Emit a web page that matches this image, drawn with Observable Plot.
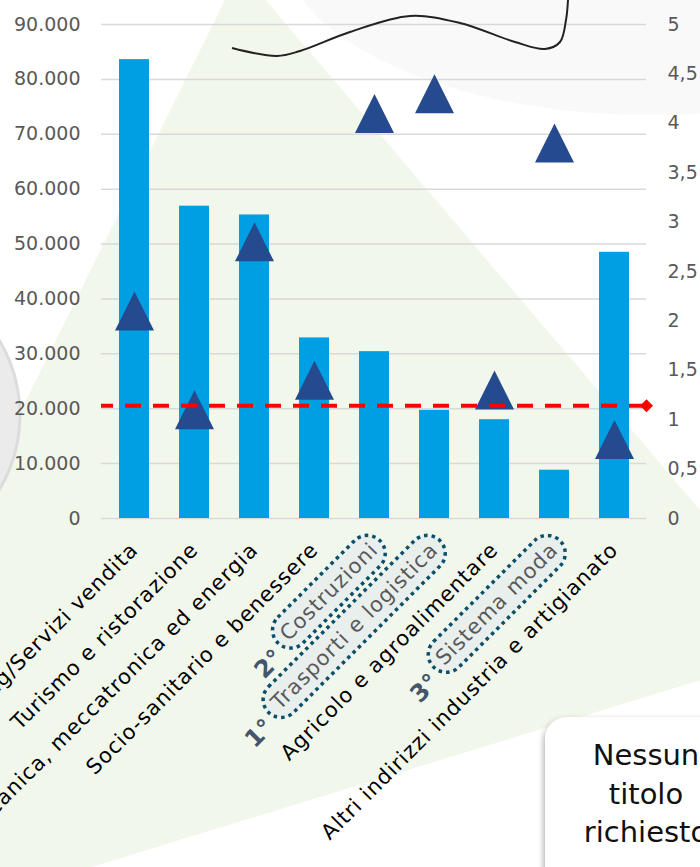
<!DOCTYPE html>
<html><head><meta charset="utf-8">
<script src="https://cdn.jsdelivr.net/npm/d3@7"></script>
<script src="https://cdn.jsdelivr.net/npm/@observablehq/plot@0.6"></script>
<style>
body{margin:0;background:#fff;}
#chart{position:relative;width:700px;height:867px;overflow:hidden;}
</style>
</head><body><div id="chart"></div>
<script>
// ---- data ----
const categories = [
  "Marketing/Servizi vendita",
  "Turismo e ristorazione",
  "Meccanica, meccatronica ed energia",
  "Socio-sanitario e benessere",
  "Costruzioni",
  "Trasporti e logistica",
  "Agricolo e agroalimentare",
  "Sistema moda",
  "Altri indirizzi industria e artigianato"
];
const iscritti = [83600, 56900, 55300, 32900, 30400, 19700, 18000, 8800, 48500];
const indice = [2.1, 1.1, 2.8, 1.4, 4.1, 4.3, 1.3, 3.8, 0.8];
const mediaIndice = 1.14;
const leftTicks = [0, 10000, 20000, 30000, 40000, 50000, 60000, 70000, 80000, 90000];
const rightTicks = [0, 0.5, 1, 1.5, 2, 2.5, 3, 3.5, 4, 4.5, 5];
const rankCats = ["Trasporti e logistica", "Costruzioni", "Sistema moda"];
const rankLabels = ["1°", "2°", "3°"];
const boxTitle = ["Nessun", "titolo", "richiesto"];

// ---- helpers ----
const K = 90000 / 5; // right axis -> left axis units
const itLocale = d3.formatLocale({decimal: ",", thousands: ".", grouping: [3], currency: ["€", ""]});
const fmtL = itLocale.format(",");
const fmtR = itLocale.format(",.1~f");
const rows = categories.map((c, i) => ({c, v: iscritti[i], t: indice[i] * K}));

const tri = {draw(ctx, size) {const a = Math.sqrt(size / Math.PI); ctx.moveTo(0, -a); ctx.lineTo(a, a); ctx.lineTo(-a, a); ctx.closePath();}};
const diamond = {draw(ctx, size) {const a = Math.sqrt(size / Math.PI); ctx.moveTo(0, -a); ctx.lineTo(a, 0); ctx.lineTo(0, a); ctx.lineTo(-a, 0); ctx.closePath();}};

const plot = Plot.plot({
  width: 700, height: 867,
  marginTop: 24, marginBottom: 349, marginLeft: 101, marginRight: 54,
  style: {fontFamily: "DejaVu Sans", fontSize: "19px", background: "transparent"},
  x: {domain: categories, paddingInner: 0.5, paddingOuter: 0.25, label: null},
  y: {domain: [0, 90000], label: null},
  marks: [
    Plot.gridY(leftTicks, {stroke: "#d9d9d9", strokeOpacity: 1, strokeWidth: 1.5}),
    Plot.axisY(leftTicks, {anchor: "left", tickSize: 0, tickPadding: 21, tickFormat: fmtL, color: "#595959", fontSize: 19, label: null}),
    Plot.axisY(rightTicks.map(v => v * K), {anchor: "right", tickSize: 0, tickPadding: 21, tickFormat: d => fmtR(d / K), color: "#595959", fontSize: 19, label: null}),
    Plot.barY(rows, {x: "c", y: "v", fill: "#009FE3"}),
    Plot.dot(rows, {x: "c", y: "t", symbol: tri, r: 19.5, fill: "#264A8E", stroke: null, ariaLabel: "triangoli"}),
    Plot.ruleY([mediaIndice * K], {stroke: "#FF0000", strokeWidth: 4, strokeDasharray: "16,12", strokeDashoffset: 4}),
    Plot.dot([mediaIndice * K], {y: d => d, frameAnchor: "right", symbol: diamond, r: 6.5, fill: "#FF0000", stroke: null}),
    Plot.axisX({tickRotate: -45, tickSize: 0, tickPadding: 28, color: "#000", fontSize: 21, label: null})
  ]
});
document.getElementById("chart").appendChild(plot);

// ---- decorations ----
const svg = d3.select(plot);
const defs = svg.insert("defs", ":first-child");
const f = defs.append("filter").attr("id", "sh").attr("x", "-50%").attr("y", "-50%").attr("width", "200%").attr("height", "200%");
f.append("feDropShadow").attr("dx", 3).attr("dy", 4).attr("stdDeviation", 2.5).attr("flood-color", "#000").attr("flood-opacity", 0.45);
const f2 = defs.append("filter").attr("id", "sh2").attr("x", "-20%").attr("y", "-20%").attr("width", "140%").attr("height", "140%");
f2.append("feDropShadow").attr("dx", -1).attr("dy", 3).attr("stdDeviation", 3).attr("flood-color", "#000").attr("flood-opacity", 0.35);
svg.select('g[aria-label="triangoli"]').attr("filter", "url(#sh)");

const bg = svg.insert("g", "defs + *");
bg.append("ellipse").attr("cx", 650).attr("cy", -60).attr("rx", 370).attr("ry", 175).attr("fill", "#f9f9f9");
bg.append("polygon").attr("points", "240,-30 815,645 -260,975").attr("fill", "#f2f7eb");
bg.append("circle").attr("cx", -125).attr("cy", 415).attr("r", 145).attr("fill", "#ebebeb").attr("stroke", "#dcdcdc").attr("stroke-width", 3);

// x labels: wider spacing (reference uses a wide geometric face)
svg.selectAll('g[aria-label="x-axis tick label"] text').style("letter-spacing", "1px");

// boxed & ranked x labels
svg.selectAll('g[aria-label="x-axis tick label"] text').each(function() {
  const name = this.textContent;
  const k = rankCats.indexOf(name);
  if (k < 0) return;
  const bb = this.getBBox();
  const tr = this.getAttribute("transform");
  const padX = 8, padY = 6;
  const h = bb.height + 2 * padY;
  d3.select(this).attr("fill", "#595959");
  d3.select(this.parentNode).insert("rect", () => this)
    .attr("transform", tr)
    .attr("x", bb.x - padX).attr("y", bb.y - padY)
    .attr("width", bb.width + 2 * padX).attr("height", h)
    .attr("rx", h / 2).attr("ry", h / 2)
    .attr("fill", "#e9efec")
    .attr("stroke", "#0b4f6c").attr("stroke-width", 3.5).attr("stroke-dasharray", "3.5 4");
  d3.select(this.parentNode).append("text")
    .attr("transform", tr)
    .attr("x", bb.x - padX - 7).attr("y", bb.y + bb.height / 2 + 8)
    .attr("dy", "0.35em")
    .attr("text-anchor", "end")
    .attr("fill", "#44546a").attr("stroke", "none")
    .attr("font-weight", "bold").attr("font-size", 24)
    .text(rankLabels[k]);
});

// top curve
const curvePts = [[232,48],[277,56],[300,51],[350,32],[410,16],[460,23],[515,42],[545,49],[560,42],[566,20],[568,0]];
svg.append("path").attr("d", d3.line().curve(d3.curveCatmullRom)(curvePts))
  .attr("fill", "none").attr("stroke", "#222").attr("stroke-width", 2);

// bottom-right box
const bx = svg.append("g");
bx.append("rect").attr("x", 545).attr("y", 717).attr("width", 220).attr("height", 200).attr("rx", 22)
  .attr("fill", "#fff").attr("filter", "url(#sh2)");
bx.append("text").attr("x", 646).attr("y", 765).attr("text-anchor", "middle")
  .attr("font-family", "DejaVu Sans").attr("font-size", 29).attr("fill", "#111")
  .selectAll("tspan").data(boxTitle).join("tspan")
  .attr("x", 646).attr("dy", (d, i) => i === 0 ? 0 : 38.5).text(d => d);
</script></body></html>
